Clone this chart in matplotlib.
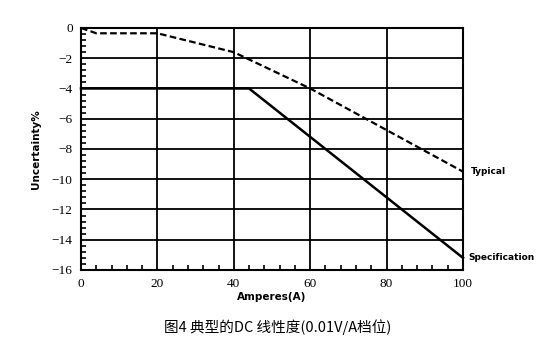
import numpy as np
import matplotlib.pyplot as plt
from matplotlib.ticker import MultipleLocator

amps_typ = [0, 4, 20, 40, 60, 80, 100]
typical = [0, -0.35, -0.35, -1.6, -4.0, -6.75, -9.5]
amps_spec = [0, 44, 100]
spec = [-4, -4, -15.2]

xticks = [0, 20, 40, 60, 80, 100]
yticks = [0, -2, -4, -6, -8, -10, -12, -14, -16]

fig = plt.figure(figsize=(5.59, 3.63), dpi=100)
ax = fig.add_axes([0.1449, 0.2562, 0.6834, 0.6667])

ax.plot(amps_typ, typical, color='black', lw=1.6, ls=(0, (3, 1.5)), clip_on=False, zorder=3)
ax.plot(amps_spec, spec, color='black', lw=1.8, clip_on=False, zorder=3)

ax.set_xlim(0, 100)
ax.set_ylim(-16, 0)
ax.set_xticks(xticks)
ax.set_yticks(yticks)
ax.set_xticklabels([str(v) for v in xticks], family='Liberation Serif', fontsize=9.5)
ax.set_yticklabels(['0'] + ['\u2212' + str(-v) for v in yticks[1:]], family='Liberation Serif', fontsize=9.5)
ax.xaxis.set_minor_locator(MultipleLocator(4))
ax.yaxis.set_minor_locator(MultipleLocator(0.4))
ax.tick_params(which='major', length=0, pad=6)
ax.tick_params(which='minor', direction='in', length=3.5, width=1.2, color='black')
ax.tick_params(axis='y', which='minor', left=True)
ax.tick_params(axis='x', which='minor', bottom=True)
ax.grid(True, which='major', color='black', lw=1.3)
for s in ax.spines.values():
    s.set_linewidth(1.5)

ax.set_xlabel('Amperes(A)', fontsize=7.5, fontweight='bold', labelpad=1)
ax.set_ylabel('Uncertainty%', fontsize=7.5, fontweight='bold', labelpad=14)
ax.yaxis.set_label_coords(-0.105, 0.5)

ax.text(102, typical[-1], 'Typical', fontsize=6.5, fontweight='bold', va='center', ha='left')
ax.text(101.5, spec[-1], 'Specification', fontsize=6.5, fontweight='bold', va='center', ha='left')

fig.text(0.497, 0.098, '图4 典型的DC 线性度(0.01V/A档位)', fontsize=10.5,
         family=['Noto Sans CJK SC', 'DejaVu Sans'], ha='center', va='center')

fig.savefig('out.png', dpi=100)
